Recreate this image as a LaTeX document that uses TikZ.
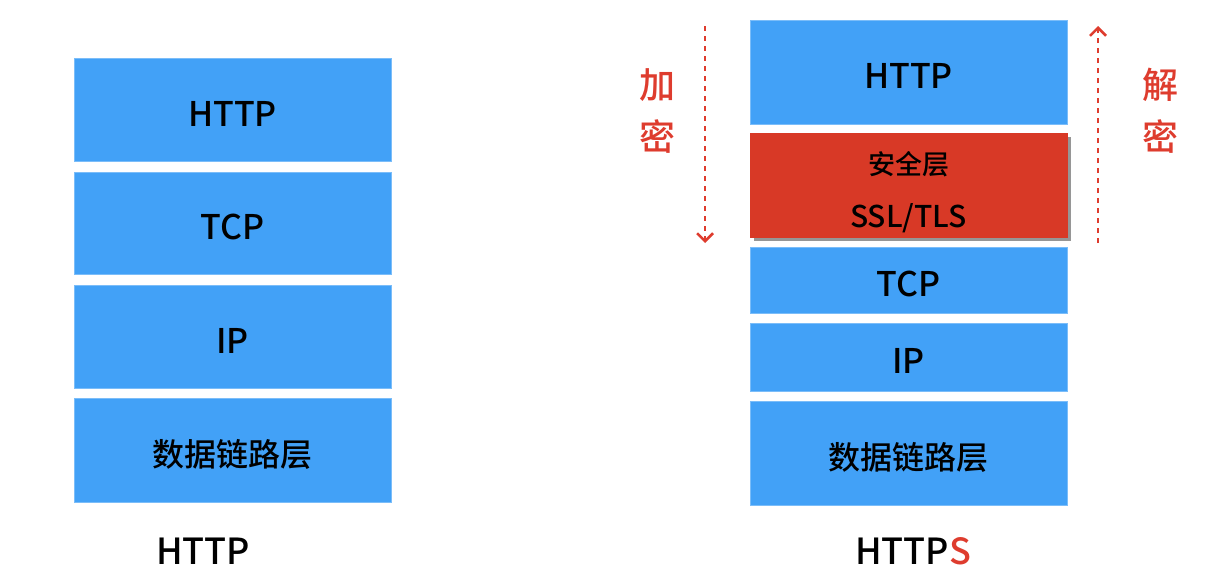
\documentclass[tikz,border=0pt]{standalone}
\usepackage{fontspec}
\setmainfont{Noto Sans CJK SC Medium}
\usetikzlibrary{arrows.meta,shadows}
\definecolor{layerblue}{RGB}{66,161,247}
\definecolor{layerred}{RGB}{216,57,38}
\definecolor{arrowred}{RGB}{222,60,46}
\tikzset{
  layerbase/.style={rectangle, fill=layerblue, draw=layerblue!70!white, line width=0.6pt,
    minimum width=317pt, inner sep=0pt, text=black},
  layer/.style={layerbase, text height=33pt, text depth=0pt,
    font=\fontsize{34}{40}\selectfont},
  seclayer/.style={layerbase, fill=layerred, draw=layerred,
    text height=84pt, text depth=0pt, align=center,
    font=\fontsize{30}{53}\selectfont,
    drop shadow={shadow xshift=4pt, shadow yshift=-4pt, opacity=0.55, fill=black!75}},
  cryptarrow/.style={draw=arrowred, line width=2.5pt, dash pattern=on 5pt off 5pt,
    -{Straight Barb[length=8pt,width=16pt,line width=2.5pt]}},
  cryptlabel/.style={text=arrowred, align=center, font=\fontsize{36}{52}\selectfont},
  stacklabel/.style={font=\fontsize{36}{40}\selectfont, text=black}
}
\begin{document}
\begin{tikzpicture}[x=1pt,y=-1pt]
\useasboundingbox (0,0) rectangle (1206,587);
% left stack (HTTP)
\node[layer, minimum height=103pt] (lhttp) at (232.5,109.5) {HTTP};
\node[layer, minimum height=102pt] (ltcp) at (232.5,223) {TCP};
\node[layer, minimum height=103pt] (lip) at (232.5,336.5) {IP};
\node[layer, minimum height=104pt] (llink) at (232.5,450) {\fontsize{32}{40}\selectfont 数据链路层};
\node[stacklabel] (lname) at (203,551) {HTTP};
% right stack (HTTPS)
\node[layer, minimum height=104pt] (rhttp) at (908.5,72) {HTTP};
\node[seclayer, minimum height=104pt] (rsec) at (908.5,185)
  {{\fontsize{27}{53}\selectfont 安全层}\\SSL/TLS};
\node[layer, minimum height=66pt] (rtcp) at (908.5,280) {TCP};
\node[layer, minimum height=68pt] (rip) at (908.5,357) {IP};
\node[layer, minimum height=104pt] (rlink) at (908.5,453) {\fontsize{32}{40}\selectfont 数据链路层};
\node[stacklabel] (rname) at (913,551) {HTTP\textcolor{arrowred}{S}};
% encryption / decryption arrows
\coordinate (encTop) at (705,26);
\coordinate (encBot) at (705,243);
\coordinate (decBot) at (1098,243);
\coordinate (decTop) at (1098,26);
\draw[cryptarrow] (encTop) -- (encBot);
\draw[cryptarrow] (decBot) -- (decTop);
\node[cryptlabel] (enc) at (657,111) {加\\密};
\node[cryptlabel] (dec) at (1160,111) {解\\密};
\end{tikzpicture}
\end{document}
